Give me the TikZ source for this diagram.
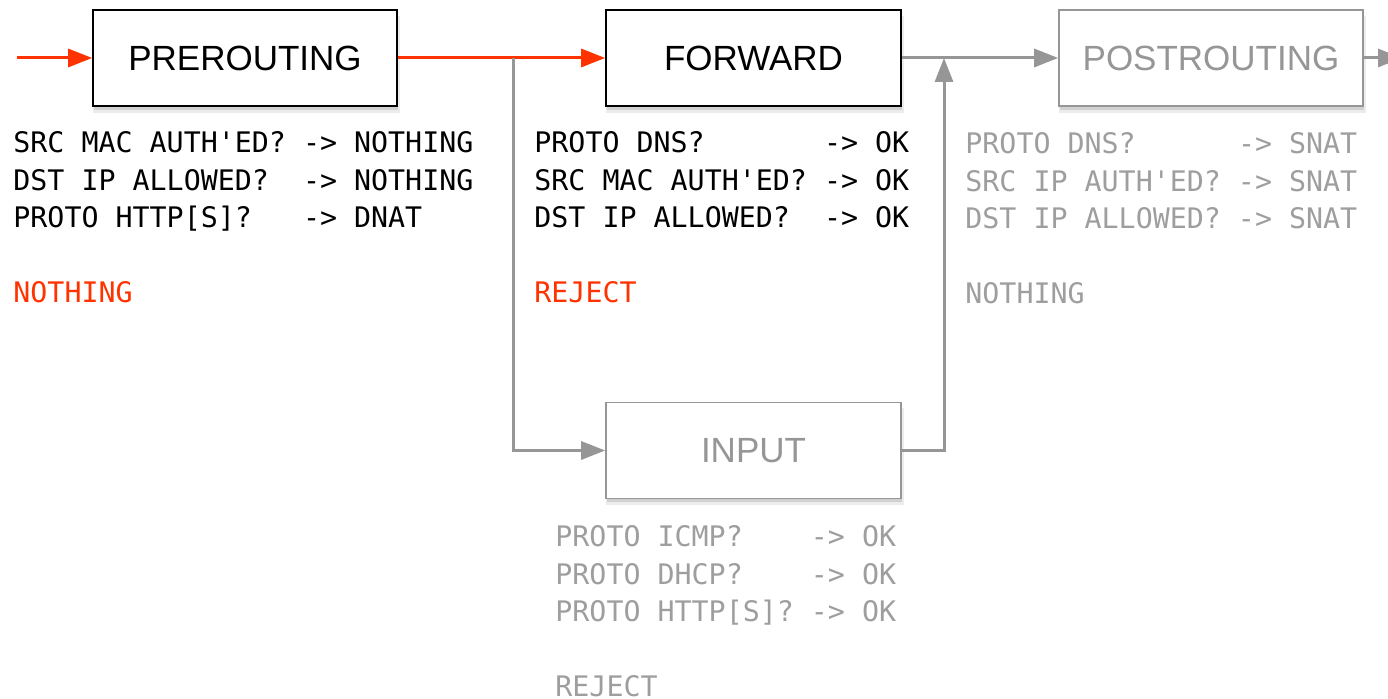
\documentclass[tikz,border=0pt]{standalone}
\usepackage{fontspec}
\setmainfont{Liberation Sans}
\setmonofont{DejaVu Sans Mono}
\usetikzlibrary{arrows.meta, positioning, shadows}
\definecolor{flowred}{RGB}{255, 51, 0}
\definecolor{flowgray}{RGB}{150, 150, 150}
\definecolor{textgray}{RGB}{158, 158, 158}

\begin{document}
\begin{tikzpicture}[x=0.5pt, y=0.5pt,
  chainbox/.style={draw, fill=white, line width=0.8pt, minimum height=48pt,
    font=\fontsize{17.5}{20}\selectfont,
    drop shadow={shadow xshift=0.6pt, shadow yshift=-3pt, shadow scale=1.01, opacity=0.15},
    drop shadow={shadow xshift=0.6pt, shadow yshift=-2pt, opacity=0.25}},
  rules/.style={anchor=base west, inner sep=0pt, align=left,
    font=\ttfamily\fontsize{14.15}{18.7}\selectfont},
  redflow/.style={flowred, line width=1.5pt, -{Triangle[length=12pt, width=9pt]}},
  grayflow/.style={flowgray, line width=1.5pt, -{Triangle[length=12pt, width=9pt]}}]
  \useasboundingbox (0,0) rectangle (1388,699);

  %--- chains ---
  \node[chainbox, minimum width=152pt] (pre) at (245,641) {PREROUTING};
  \node[chainbox, minimum width=147.5pt] (fwd) at (753.5,641) {FORWARD};
  \node[chainbox, minimum width=152pt, draw=flowgray, text=flowgray] (post) at (1211,641) {POSTROUTING};
  \node[chainbox, minimum width=147.5pt, draw=flowgray, text=flowgray] (inp) at (753.5,248.5) {INPUT};

  %--- free ends ---
  \coordinate (in) at (17,641);
  \coordinate (out) at (1402,641);
  \coordinate (split) at (513,641);
  \coordinate (join) at (944,641);

  %--- flows ---
  \draw[redflow] (in) -- (pre.west);
  \draw[redflow] (pre.east) -- (fwd.west);
  \draw[grayflow] (split) |- (inp.west);
  \draw[grayflow] (inp.east) -| (join);
  \draw[grayflow] (fwd.east) -- (post.west);
  \draw[grayflow] (post.east) -- (out);

  %--- rules (base = last line) ---
  \node[rules] (prerules) at (13,396.5)
    {SRC MAC AUTH'ED? -> NOTHING\\
     DST IP ALLOWED?~~-> NOTHING\\
     PROTO HTTP[S]?~~~-> DNAT\\[18.7pt]
     \textcolor{flowred}{NOTHING}};
  \node[rules] (fwdrules) at (534,396.5)
    {PROTO DNS?~~~~~~~-> OK\\
     SRC MAC AUTH'ED? -> OK\\
     DST IP ALLOWED?~~-> OK\\[18.7pt]
     \textcolor{flowred}{REJECT}};
  \node[rules, text=textgray] (postrules) at (965,395.5)
    {PROTO DNS?~~~~~~-> SNAT\\
     SRC IP AUTH'ED?~-> SNAT\\
     DST IP ALLOWED?~-> SNAT\\[18.7pt]
     NOTHING};
  \node[rules, text=textgray] (inprules) at (555,2.5)
    {PROTO ICMP?~~~~-> OK\\
     PROTO DHCP?~~~~-> OK\\
     PROTO HTTP[S]? -> OK\\[18.7pt]
     REJECT};
\end{tikzpicture}
\end{document}
